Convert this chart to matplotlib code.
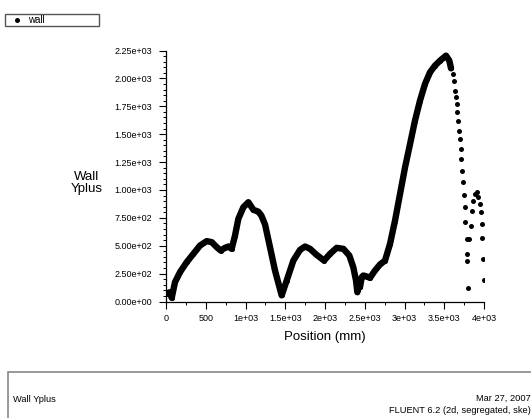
import numpy as np
import matplotlib
matplotlib.use("Agg")
from matplotlib import pyplot as plt
from matplotlib.patches import Rectangle
from matplotlib.lines import Line2D
from matplotlib.ticker import MultipleLocator, FixedLocator

plt.rcParams['font.family'] = ['Liberation Sans', 'DejaVu Sans']

# wall y+ along the wall, densely sampled part (position in mm)
pos_dense = [0, 30, 50, 72, 113, 176, 260, 344, 428, 512, 575, 638, 688,
             742, 784, 826, 868, 910, 973, 1036, 1099, 1162, 1200, 1246,
             1308, 1371, 1455, 1518, 1602, 1686, 1749, 1812, 1895, 1988,
             2063, 2147, 2231, 2306, 2356, 2390, 2407, 2424, 2440, 2462,
             2482, 2525, 2566, 2629, 2692, 2755, 2818, 2881, 2944, 3007,
             3070, 3132, 3195, 3258, 3321, 3384, 3447, 3522, 3564, 3585]
yplus_dense = [69, 78, 83, 33, 173, 263, 352, 427, 502, 541, 532, 487, 457,
               481, 493, 472, 591, 741, 845, 890, 822, 805, 770, 690,
               487, 278, 55, 188, 367, 463, 493, 472, 418, 367,
               427, 481, 472, 412, 307, 188, 83, 158, 128, 218,
               233, 224, 212, 278, 332, 367, 517, 726, 965, 1203,
               1413, 1622, 1801, 1951, 2055, 2115, 2159, 2204, 2159, 2090]

# sparse cells near the outlet
pos_tail = [3606, 3623, 3636, 3648, 3657, 3665, 3678, 3690, 3699, 3707,
            3715, 3724, 3740, 3749, 3757, 3766, 3783, 3791, 3783, 3799,
            3816, 3833, 3849, 3866, 3887, 3908, 3929, 3950, 3958, 3971,
            3979, 3992, 4000]
yplus_tail = [2040, 1980, 1890, 1831, 1771, 1696, 1622, 1532, 1458, 1368,
              1279, 1174, 1069, 959, 845, 711, 562, 427, 367, 123,
              562, 681, 815, 905, 965, 979, 935, 875, 800, 696,
              571, 383, 194]

yticks = np.arange(0, 2251, 250)
xticks = np.arange(0, 4001, 500)
xticklabels = ['0', '500', '1e+03', '1.5e+03', '2e+03', '2.5e+03',
               '3e+03', '3.5e+03', '4e+03']

W, H = 531, 418
fig = plt.figure(figsize=(W / 100, H / 100), dpi=100)
ax = fig.add_axes([166 / W, (H - 301.5) / H, 318 / W, 251 / H])

ax.plot(pos_dense, yplus_dense, '-', color='k', lw=4.6,
        solid_capstyle='round', solid_joinstyle='round')
ax.plot(pos_dense + pos_tail, yplus_dense + yplus_tail, 'o', color='k',
        ms=3.6, mew=0)

ax.set_xlim(0, 4000)
ax.set_ylim(0, 2250)
for s in ['top', 'right']:
    ax.spines[s].set_visible(False)
for s in ['left', 'bottom']:
    ax.spines[s].set_linewidth(0.9)

ax.xaxis.set_major_locator(FixedLocator(xticks))
ax.set_xticklabels(xticklabels)
ax.xaxis.set_minor_locator(MultipleLocator(250))
ax.yaxis.set_major_locator(FixedLocator(yticks))
ax.set_yticklabels(['%.2e' % v for v in yticks])
ax.yaxis.set_minor_locator(MultipleLocator(50))
ax.tick_params(which='major', direction='out', length=5, width=0.8,
               labelsize=6.5, pad=5)
ax.tick_params(which='minor', direction='out', length=2.5, width=0.7)
ax.tick_params(axis='x', which='major', pad=4)

ax.set_xlabel('Position (mm)', fontsize=9.5, labelpad=6)
fig.text(87 / W, 1 - 183 / H, 'Wall\nYplus', fontsize=9.5, ha='center',
         va='center', linespacing=1.05)

# legend box at the top left
fig.patches.append(Rectangle((5 / W, 1 - 26 / H), 94 / W, 12 / H,
                             transform=fig.transFigure, fill=False,
                             edgecolor='#555555', lw=1.0))
fig.lines.append(Line2D([17 / W], [1 - 20 / H], marker='o', color='k',
                        ms=3.6, mew=0, transform=fig.transFigure))
fig.text(28 / W, 1 - 20 / H, 'wall', fontsize=7, va='center')

# title block at the bottom
fig.patches.append(Rectangle((7.5 / W, -0.01), 1.0, (H - 372) / H + 0.01,
                             transform=fig.transFigure, fill=False,
                             edgecolor='#888888', lw=1.2))
fig.text(13 / W, 1 - 400 / H, 'Wall Yplus', fontsize=6.7, va='center')
fig.text(531 / W, 1 - 398 / H, 'Mar 27, 2007', fontsize=6.7, va='center',
         ha='right')
fig.text(531 / W, 1 - 410.5 / H, 'FLUENT 6.2 (2d, segregated, ske)',
         fontsize=6.7, va='center', ha='right')

fig.savefig('out.png', dpi=100)
